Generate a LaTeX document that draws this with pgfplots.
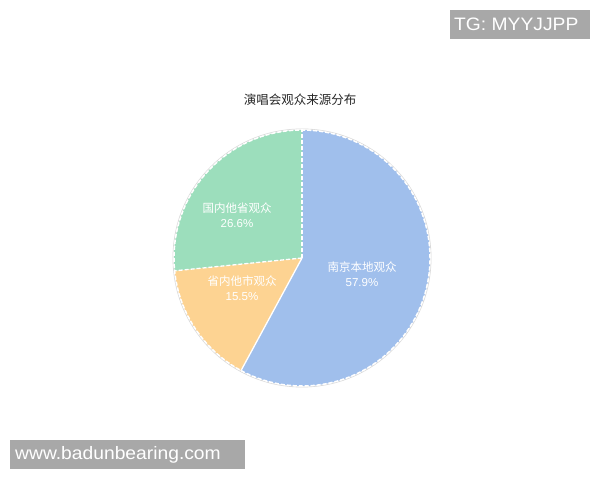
\documentclass[border=0pt]{standalone}
\usepackage{fontspec}
\setmainfont{Liberation Sans}
\newfontfamily\cjk{Noto Sans CJK SC}
\usepackage{pgfplots}
\usepackage{pgfplotstable}
\pgfplotsset{compat=1.18}

\definecolor{pieblue}{RGB}{160,191,236}
\definecolor{piegreen}{RGB}{156,222,188}
\definecolor{pieorange}{RGB}{253,211,146}
\definecolor{wmgray}{RGB}{168,168,168}

% shares in percent, clockwise from 12 o'clock
\pgfplotstableread{
part value
local 57.9
province 15.5
other 26.6
}\piedata
\pgfplotstablegetelem{0}{value}\of\piedata\let\vA\pgfplotsretval
\pgfplotstablegetelem{1}{value}\of\piedata\let\vB\pgfplotsretval
\pgfplotstablegetelem{2}{value}\of\piedata\let\vC\pgfplotsretval
\pgfmathsetmacro\angA{90}
\pgfmathsetmacro\angB{\angA-3.6*\vA}
\pgfmathsetmacro\angC{\angB-3.6*\vB}
\pgfmathsetmacro\angD{\angC-3.6*\vC}
\def\R{128bp}

\begin{document}
\begin{tikzpicture}
\begin{axis}[
    hide axis, scale only axis,
    width=600bp, height=480bp,
    xmin=0, xmax=600, ymin=0, ymax=480,
    clip=false,
]
\fill[white] (axis cs:0,0) rectangle (axis cs:600,480);
\coordinate (SW) at (axis cs:0,0);
\coordinate (NE) at (axis cs:600,480);

% slices
\draw[gray!30, line width=0.8bp] (axis cs:302,222) circle[radius=129bp];
\fill[pieblue] (axis cs:302,222) -- ++(\angA:\R) arc[start angle=\angA, end angle=\angB, radius=\R] -- cycle;
\fill[pieorange] (axis cs:302,222) -- ++(\angB:\R) arc[start angle=\angB, end angle=\angC, radius=\R] -- cycle;
\fill[piegreen] (axis cs:302,222) -- ++(\angC:\R) arc[start angle=\angC, end angle=\angD, radius=\R] -- cycle;

% white dashed borders
\draw[white, line width=1.5bp, dash pattern=on 4bp off 2bp] (axis cs:302,222) circle[radius=\R];
\draw[white, line width=1.3bp, dash pattern=on 4bp off 2bp] (axis cs:302,222) -- ++(\angA:\R);
\draw[white, line width=1.3bp] (axis cs:302,222) -- ++(\angB:\R);
\draw[white, line width=1.3bp, dash pattern=on 4bp off 2bp] (axis cs:302,222) -- ++(\angC:\R);

% labels
\node[white, align=center, font=\fontsize{11.5bp}{15bp}\selectfont] at (axis cs:362,206)
  {{\cjk 南京本地观众}\\57.9\%};
\node[white, align=center, font=\fontsize{11.5bp}{15bp}\selectfont] at (axis cs:237,265)
  {{\cjk 国内他省观众}\\26.6\%};
\node[white, align=center, font=\fontsize{11.5bp}{15bp}\selectfont] at (axis cs:242,192)
  {{\cjk 省内他市观众}\\15.5\%};

% title
\node[black!85, font=\fontsize{12.5bp}{14bp}\selectfont\cjk] at (axis cs:300,380) {演唱会观众来源分布};

% watermarks
\fill[wmgray] (axis cs:450,441) rectangle (axis cs:590,470);
\node[white, anchor=west, xscale=1.07, inner sep=0pt, font=\fontsize{18bp}{20bp}\selectfont] at (axis cs:454,455.5) {TG: MYYJJPP};
\fill[wmgray] (axis cs:10,11) rectangle (axis cs:245,40);
\node[white, anchor=west, xscale=1.07, inner sep=0pt, font=\fontsize{18bp}{20bp}\selectfont] at (axis cs:15,25.5) {www.badunbearing.com};
\end{axis}
\pgfresetboundingbox
\path (SW) rectangle (NE);
\end{tikzpicture}
\end{document}
